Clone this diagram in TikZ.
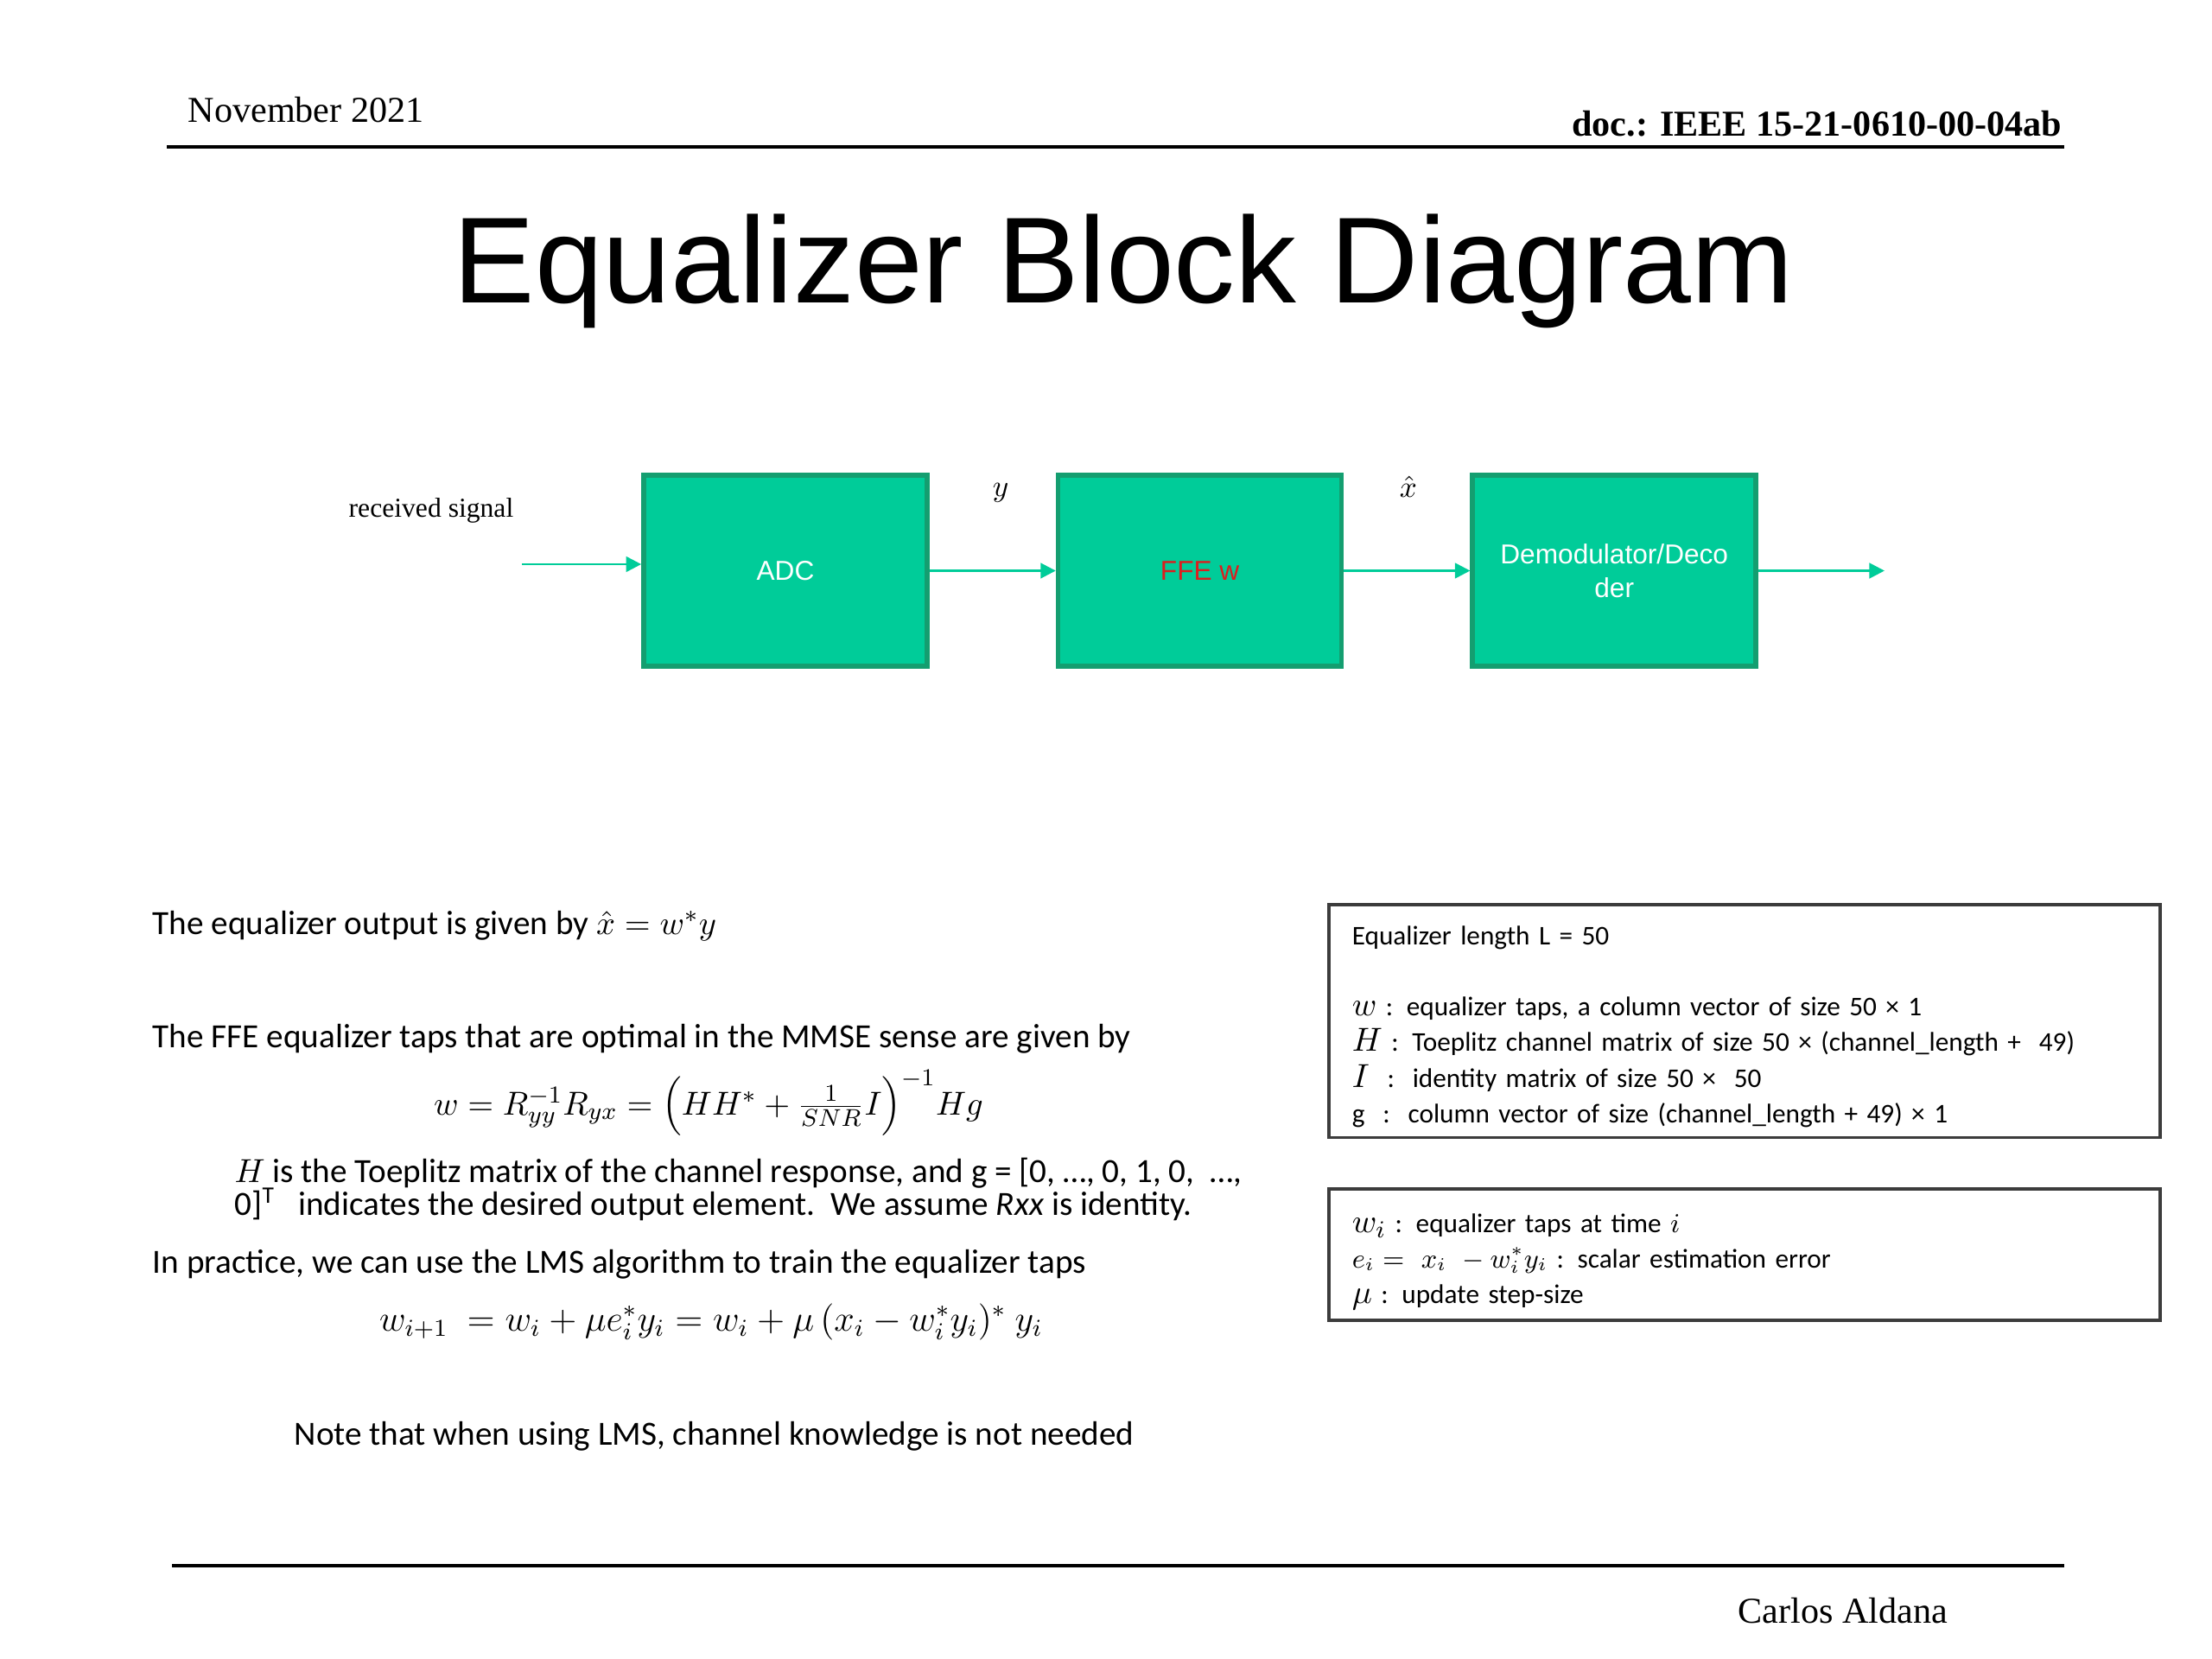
\documentclass[tikz,border=0pt]{standalone}
\usepackage{fontspec}
\usepackage{amsmath,amssymb}
\usetikzlibrary{positioning, arrows.meta}
\setmainfont{Liberation Serif}
\newfontfamily\arialfont{Liberation Sans}
\newfontfamily\calibfont{Carlito}
\definecolor{blockGreen}{RGB}{0,204,153}
\definecolor{blockEdge}{RGB}{20,158,112}
\definecolor{ffeRed}{RGB}{220,30,30}
\definecolor{boxEdge}{RGB}{60,60,60}
\newcommand{\mvar}[1]{{\fontsize{11}{11.7}\selectfont$#1$}}

\begin{document}
\begin{tikzpicture}[
    block/.style={draw=blockEdge, line width=1.6pt, fill=blockGreen, minimum width=3.28cm, minimum height=2.21cm,
        inner sep=0pt, font=\arialfont\fontsize{9}{11}\selectfont, text=white, align=center},
    flow/.style={blockGreen, line width=0.8pt, -{Triangle[length=5pt,width=5pt]}},
    hdr/.style={font=\fontsize{12}{14}\selectfont, inner sep=0pt},
    body/.style={font=\calibfont\fontsize{11.15}{13}\selectfont, anchor=base west, inner sep=0pt},
    infobox/.style={draw=boxEdge, line width=1pt, anchor=north west, text width=9.08cm, inner xsep=0.27cm,
        minimum width=9.62cm, align=left, font=\calibfont\fontsize{8.9}{11.7}\selectfont}
]
    \useasboundingbox (0,0) rectangle (25.6,-19.2);

    % header and footer
    \node[hdr, anchor=base west] (date) at (2.17,-1.42) {November 2021};
    \node[hdr, anchor=base east, font=\bfseries\fontsize{12}{14}\selectfont] (docno) at (23.87,-1.58) {doc.: IEEE 15-21-0610-00-04ab};
    \draw[line width=1.3pt] (1.93,-1.70) -- (23.89,-1.70);
    \draw[line width=1.3pt] (1.99,-18.12) -- (23.89,-18.12);
    \node[hdr, anchor=base west] (author) at (20.11,-18.78) {Carlos Aldana};

    \node[font=\arialfont\fontsize{40.3}{48}\selectfont, anchor=base] (title) at (13.0,-3.51) {Equalizer Block Diagram};

    % receiver chain
    \node[block] (adc) at (9.09,-6.605) {ADC};
    \node[block, right=1.46cm of adc] (ffe) {\textcolor{ffeRed}{FFE w}};
    \node[block, right=1.46cm of ffe] (demod) {Demodulator/Deco\\der};
    \coordinate (rxin) at (6.04,-6.53);
    \coordinate (rxout) at (21.81,-6.58);
    \draw[flow] (rxin) -- (rxin -| adc.west);
    \draw[flow] (adc) -- (ffe);
    \draw[flow] (ffe) -- (demod);
    \draw[flow] (demod) -- (demod -| rxout);
    \node[anchor=base west, inner sep=0pt, font=\fontsize{9}{11}\selectfont] (rxlabel) at (4.03,-5.98) {received signal};
    \node[font=\fontsize{10}{12}\selectfont] (ylabel) at (11.58,-5.70) {$y$};
    \node[font=\fontsize{10}{12}\selectfont] (xhatlabel) at (16.30,-5.63) {$\hat{x}$};

    % text on the left
    \node[body] (outline) at (1.76,-10.81) {The equalizer output is given by $\hat{x} = w^{*}y$};
    \node[body] (mmseline) at (1.76,-12.12) {The FFE equalizer taps that are optimal in the MMSE sense are given by};
    \node[body, anchor=base, font=\fontsize{10.8}{13}\selectfont] (mmse) at (8.20,-12.90)
        {$w = R_{yy}^{-1}R_{yx} = \Big(HH^{*} + \tfrac{1}{SNR}I\Big)^{-1}Hg$};
    \node[body] (toep1) at (2.71,-13.68) {$H$ is the Toeplitz matrix of the channel response, and g = [0, …, 0, 1, 0,\ \ …,};
    \node[body] (toep2) at (2.71,-14.06) {0]\textsuperscript{T}\ \ \ indicates the desired output element.\ \ We assume \textit{Rxx} is identity.};
    \node[body] (lmsline) at (1.76,-14.73) {In practice, we can use the LMS algorithm to train the equalizer taps};
    \node[body, anchor=base, font=\fontsize{11.6}{14}\selectfont] (lms) at (8.23,-15.40)
        {$w_{i+1}\ = w_i + \mu e_i^{*}y_i = w_i + \mu\,(x_i - w_i^{*}y_i)^{*}\ y_i$};
    \node[body] (note) at (3.40,-16.72) {Note that when using LMS, channel knowledge is not needed};

    % boxes on the right
    \node[infobox, minimum height=2.69cm] (params) at (15.36,-10.45) {\rule{0pt}{10pt}Equalizer length L = 50\\
        \mbox{}\\
        \mvar{w} : equalizer taps, a column vector of size 50 × 1\\
        \mvar{H} : Toeplitz channel matrix of size 50 × (channel\_length +\ \ 49)\\
        \mvar{I}\ \ :\ \ identity matrix of size 50 ×\ \ 50\\
        g\ \ :\ \ column vector of size (channel\_length + 49) × 1};
    \node[infobox, minimum height=1.52cm, below=0.56cm of params] (lmsvars) {\rule{0pt}{11pt}\mvar{w_i} : equalizer taps at time $i$\\
        $e_i =\ x_i\ -w_i^{*}y_i$ : scalar estimation error\\
        \mvar{\mu} : update step-size};
\end{tikzpicture}
\end{document}
